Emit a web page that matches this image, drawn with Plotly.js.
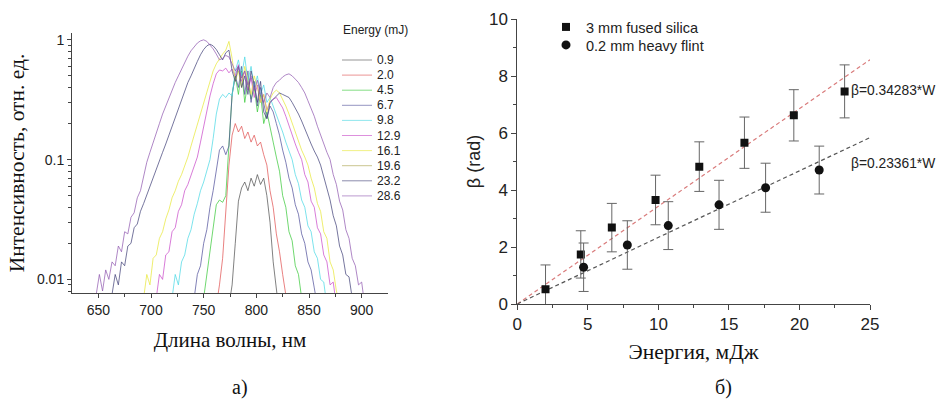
<!DOCTYPE html>
<html>
<head>
<meta charset="utf-8">
<script src="https://cdn.plot.ly/plotly-3.0.1.min.js"></script>
<style>html,body{margin:0;padding:0;background:#fff;}#chart{width:939px;height:401px;}</style>
</head>
<body>
<div id="chart"></div>
<script>
// ---------- Panel a) spectra ----------
const wavelength = [648,651,654,657,660,663,666,669,672,675,678,681,684,687,690,693,696,699,702,705,708,711,714,717,720,723,726,729,732,735,738,741,744,747,750,753,756,759,762,765,768,771,774,777,780,783,786,789,792,795,798,801,804,807,810,813,816,819,822,825,828,831,834,837,840,843,846,849,852,855,858,861,864,867,870,873,876,879,882,885,888,891,894,897,900,903];

const energyLabels = ['0.9','2.0','4.5','6.7','9.8','12.9','16.1','19.6','23.2','28.6'];
const energyColors = ['#505050','#e05050','#38c838','#50509a','#48d8e4','#c848c8','#e8e838','#a8a048','#404078','#9058b0'];
const spectrumStart = [774,762,750,741,720,705,693,677,663,648];

const spec_0_9 = [0.006,0.009,0.02,0.045,0.058,0.065,0.055,0.07,0.06,0.075,0.062,0.07,0.05,0.03,0.014,0.008,0.005];
const spec_2_0 = [0.006,0.009,0.015,0.04,0.09,0.16,0.2,0.17,0.19,0.15,0.17,0.14,0.16,0.13,0.14,0.11,0.09,0.055,0.04,0.024,0.017,0.011,0.0075,0.005];
const spec_4_5 = [0.007,0.011,0.018,0.028,0.042,0.046,0.044,0.05,0.12,0.35,0.5,0.35,0.55,0.3,0.45,0.32,0.4,0.25,0.35,0.2,0.25,0.18,0.14,0.105,0.08,0.05,0.04,0.025,0.021,0.013,0.011,0.007];
const spec_6_7 = [0.007,0.011,0.013,0.02,0.026,0.04,0.055,0.08,0.12,0.13,0.11,0.13,0.35,0.5,0.4,0.6,0.35,0.55,0.3,0.45,0.28,0.4,0.3,0.22,0.28,0.25,0.2,0.16,0.12,0.095,0.07,0.058,0.042,0.035,0.024,0.02,0.014,0.012,0.0085,0.006];
const spec_9_8 = [0.007,0.011,0.009,0.014,0.016,0.022,0.026,0.035,0.043,0.055,0.065,0.08,0.1,0.15,0.24,0.32,0.35,0.33,0.36,0.34,0.55,0.68,0.5,0.72,0.45,0.6,0.4,0.5,0.35,0.42,0.3,0.33,0.28,0.24,0.2,0.17,0.14,0.12,0.1,0.075,0.063,0.046,0.04,0.028,0.025,0.017,0.015,0.01,0.0095,0.006];
const spec_12_9 = [0.007,0.011,0.01,0.016,0.017,0.025,0.027,0.037,0.042,0.055,0.062,0.075,0.088,0.105,0.14,0.19,0.26,0.34,0.43,0.52,0.56,0.55,0.58,0.53,0.57,0.5,0.62,0.45,0.55,0.38,0.48,0.33,0.42,0.3,0.35,0.26,0.3,0.32,0.33,0.3,0.27,0.23,0.19,0.16,0.135,0.115,0.1,0.075,0.065,0.045,0.04,0.027,0.024,0.016,0.014,0.009,0.0095,0.006];
const spec_16_1 = [0.007,0.011,0.009,0.015,0.016,0.022,0.025,0.032,0.038,0.048,0.055,0.066,0.075,0.088,0.105,0.13,0.16,0.2,0.25,0.31,0.38,0.46,0.55,0.63,0.7,0.76,0.82,0.97,0.7,0.45,0.55,0.4,0.6,0.45,0.35,0.5,0.4,0.3,0.35,0.25,0.32,0.36,0.38,0.36,0.32,0.28,0.24,0.2,0.17,0.14,0.12,0.105,0.09,0.07,0.058,0.043,0.037,0.025,0.022,0.014,0.012,0.008,0.0065];
const spec_19_6 = [0.007,0.011,0.009,0.014,0.015,0.02,0.023,0.028,0.033,0.038,0.045,0.052,0.061,0.071,0.083,0.097,0.113,0.13,0.153,0.18,0.21,0.245,0.285,0.33,0.39,0.46,0.55,0.64,0.69,0.68,0.7,0.8,0.85,0.6,0.5,0.58,0.42,0.52,0.38,0.45,0.55,0.35,0.4,0.28,0.2,0.3,0.36,0.4,0.37,0.34,0.3,0.27,0.24,0.21,0.185,0.165,0.145,0.13,0.115,0.105,0.09,0.07,0.058,0.04,0.033,0.022,0.018,0.011,0.01,0.006];
const spec_23_2 = [0.0075,0.011,0.009,0.014,0.013,0.019,0.02,0.027,0.029,0.037,0.043,0.051,0.06,0.07,0.083,0.1,0.115,0.135,0.16,0.19,0.23,0.27,0.32,0.38,0.44,0.5,0.58,0.66,0.75,0.83,0.89,0.92,0.89,0.83,0.75,0.68,0.78,0.82,0.55,0.45,0.6,0.4,0.5,0.35,0.55,0.42,0.3,0.45,0.25,0.22,0.3,0.32,0.34,0.36,0.35,0.34,0.33,0.3,0.27,0.24,0.21,0.18,0.155,0.135,0.118,0.105,0.09,0.072,0.058,0.046,0.034,0.028,0.019,0.016,0.011,0.0105,0.007];
const spec_28_6 = [0.0075,0.011,0.008,0.012,0.01,0.014,0.013,0.019,0.017,0.025,0.024,0.033,0.036,0.048,0.055,0.075,0.095,0.115,0.14,0.17,0.2,0.24,0.28,0.33,0.38,0.44,0.5,0.57,0.65,0.73,0.81,0.88,0.94,0.98,1.0,0.97,0.91,0.84,0.76,0.68,0.7,0.74,0.72,0.62,0.55,0.6,0.48,0.55,0.42,0.5,0.38,0.46,0.35,0.3,0.36,0.33,0.4,0.44,0.46,0.49,0.51,0.52,0.5,0.47,0.44,0.4,0.36,0.31,0.27,0.23,0.19,0.16,0.135,0.115,0.1,0.075,0.062,0.045,0.038,0.026,0.022,0.015,0.013,0.009,0.0095,0.006];
const spectra = [spec_0_9,spec_2_0,spec_4_5,spec_6_7,spec_9_8,spec_12_9,spec_16_1,spec_19_6,spec_23_2,spec_28_6];

const intensityTickVals = [0.01,0.1,1];
const intensityTickText = ['0.01','0.1','1'];
const intensityMinorVals = [0.008,0.009,0.02,0.03,0.04,0.05,0.06,0.07,0.08,0.09,0.2,0.3,0.4,0.5,0.6,0.7,0.8,0.9];
const wavelengthTicks = [650,700,750,800,850,900];
const wavelengthMinor = [675,725,775,825,875];

// ---------- Panel б) nonlinear phase ----------
const silicaEnergy = [2.0,4.5,6.7,9.8,12.9,16.1,19.6,23.2];
const silicaBeta   = [0.52,1.74,2.68,3.65,4.82,5.66,6.62,7.46];
const silicaErr    = [0.85,0.83,0.85,0.87,0.87,0.9,0.9,0.93];
const flintEnergy  = [4.7,7.8,10.7,14.3,17.6,21.4];
const flintBeta    = [1.29,2.07,2.75,3.48,4.08,4.70];
const flintErr     = [0.85,0.85,0.84,0.86,0.86,0.84];
const fitEnergy    = [0,25];
const fitSilica    = [0,8.571];
const fitFlint     = [0,5.840];

const SANS = 'Liberation Sans, Arial, sans-serif';
const SERIF = 'Liberation Serif, Times New Roman, serif';
const W = 939, H = 401;
const px = v => v / W, py = v => 1 - v / H;

const traces = [];
spectra.forEach((vals, k) => {
  const i0 = wavelength.indexOf(spectrumStart[k]);
  traces.push({
    x: wavelength.slice(i0, i0 + vals.length), y: vals,
    type: 'scatter', mode: 'lines', xaxis: 'x', yaxis: 'y',
    line: {color: energyColors[k], width: 0.9}, opacity: 0.8,
    name: energyLabels[k], showlegend: false, hoverinfo: 'skip'
  });
});

traces.push({x: fitEnergy, y: fitSilica, xaxis: 'x2', yaxis: 'y2', type: 'scatter', mode: 'lines',
  line: {color: '#d97b7b', width: 1.2, dash: '4px,3px'}, showlegend: false});
traces.push({x: fitEnergy, y: fitFlint, xaxis: 'x2', yaxis: 'y2', type: 'scatter', mode: 'lines',
  line: {color: '#555555', width: 1.2, dash: '4px,3px'}, showlegend: false});
traces.push({x: silicaEnergy, y: silicaBeta, xaxis: 'x2', yaxis: 'y2', type: 'scatter', mode: 'markers',
  name: '3 mm fused silica', legend: 'legend', marker: {symbol: 'square', size: 8, color: '#111'},
  error_y: {type: 'data', array: silicaErr, visible: true, color: '#666', thickness: 1, width: 5}});
traces.push({x: flintEnergy, y: flintBeta, xaxis: 'x2', yaxis: 'y2', type: 'scatter', mode: 'markers',
  name: '0.2 mm heavy flint', legend: 'legend2', marker: {symbol: 'circle', size: 9, color: '#111'},
  error_y: {type: 'data', array: flintErr, visible: true, color: '#666', thickness: 1, width: 5}});

// manual legend for panel a (rows built from the series arrays)
const shapes = [];
const annotations = [];
annotations.push({xref: 'paper', yref: 'paper', x: px(341), y: py(30), xanchor: 'left', yanchor: 'middle',
  text: 'Energy (mJ)', showarrow: false, font: {family: SANS, size: 12, color: '#222'}});
energyLabels.forEach((lab, k) => {
  const yy = 60 + k * 15.1;
  shapes.push({type: 'line', xref: 'paper', yref: 'paper', x0: px(342), x1: px(372), y0: py(yy), y1: py(yy),
    line: {color: energyColors[k], width: 1}, opacity: 0.6});
  annotations.push({xref: 'paper', yref: 'paper', x: px(375), y: py(yy), xanchor: 'left', yanchor: 'middle',
    text: lab, showarrow: false, font: {family: SANS, size: 12, color: '#222'}});
});
annotations.push({xref: 'paper', yref: 'paper', x: px(849), y: py(90), xanchor: 'left', yanchor: 'middle',
  text: 'β=0.34283*W', showarrow: false, font: {family: SANS, size: 13.8, color: '#222'}});
annotations.push({xref: 'paper', yref: 'paper', x: px(849), y: py(163), xanchor: 'left', yanchor: 'middle',
  text: 'β=0.23361*W', showarrow: false, font: {family: SANS, size: 13.8, color: '#222'}});
annotations.push({xref: 'paper', yref: 'paper', x: px(240), y: py(401), xanchor: 'center', yanchor: 'bottom',
  text: 'а)', showarrow: false, font: {family: SERIF, size: 20, color: '#111'}});
annotations.push({xref: 'paper', yref: 'paper', x: px(723), y: py(387), xanchor: 'center', yanchor: 'middle',
  text: 'б)', showarrow: false, font: {family: SERIF, size: 20, color: '#111'}});

const axisCommon = {showline: true, linecolor: '#444', linewidth: 1, ticks: 'outside', tickcolor: '#444',
  ticklen: 4, tickwidth: 1, showgrid: false, zeroline: false, mirror: false};
const legendCommon = {xanchor: 'left', yanchor: 'top', bgcolor: 'rgba(0,0,0,0)',
  font: {family: SANS, size: 14.5, color: '#222'}};

const layout = {
  width: W, height: H, autosize: false,
  margin: {l: 0, r: 0, t: 0, b: 0},
  paper_bgcolor: '#fff', plot_bgcolor: '#fff',
  showlegend: true,
  legend: Object.assign({x: px(546), y: py(11)}, legendCommon),
  legend2: Object.assign({x: px(546), y: py(29)}, legendCommon),
  xaxis: Object.assign({}, axisCommon, {
    domain: [px(72), px(388)], range: [625, 925], anchor: 'y',
    tickmode: 'array', tickvals: wavelengthTicks,
    minor: {tickmode: 'array', tickvals: wavelengthMinor, ticks: 'outside', ticklen: 3, tickcolor: '#444'},
    tickfont: {family: SANS, size: 14, color: '#222'},
    title: {text: 'Длина волны, нм\u00a0\u00a0\u00a0\u00a0', font: {family: SERIF, size: 21, color: '#111'}, standoff: 15}
  }),
  yaxis: Object.assign({}, axisCommon, {
    type: 'log', domain: [py(293), py(33)], range: [Math.log10(0.0077), Math.log10(1.14)], anchor: 'x',
    tickmode: 'array', tickvals: intensityTickVals, ticktext: intensityTickText,
    minor: {tickmode: 'array', tickvals: intensityMinorVals, ticks: 'outside', ticklen: 3, tickcolor: '#444'},
    tickfont: {family: SANS, size: 14, color: '#222'},
    title: {text: 'Интенсивность, отн. ед.', font: {family: SERIF, size: 21.5, color: '#111'}, standoff: 6}
  }),
  xaxis2: Object.assign({}, axisCommon, {
    domain: [px(517.3), px(870)], range: [0, 25], anchor: 'y2', dtick: 5, tick0: 0, ticklen: 5,
    minor: {dtick: 2.5, ticks: 'outside', ticklen: 3, tickcolor: '#444'},
    tickfont: {family: SANS, size: 17, color: '#222'},
    title: {text: 'Энергия, мДж', font: {family: SERIF, size: 21.5, color: '#111'}, standoff: 10}
  }),
  yaxis2: Object.assign({}, axisCommon, {
    domain: [py(304), py(19)], range: [0, 10], anchor: 'x2', dtick: 2, tick0: 0, ticklen: 5,
    minor: {dtick: 1, ticks: 'outside', ticklen: 3, tickcolor: '#444'},
    tickfont: {family: SANS, size: 17, color: '#222'},
    title: {text: 'β (rad)', font: {family: SANS, size: 18, color: '#222'}, standoff: 3}
  }),
  shapes: shapes,
  annotations: annotations
};

Plotly.newPlot('chart', traces, layout, {staticPlot: true, displayModeBar: false});
</script>
</body>
</html>
